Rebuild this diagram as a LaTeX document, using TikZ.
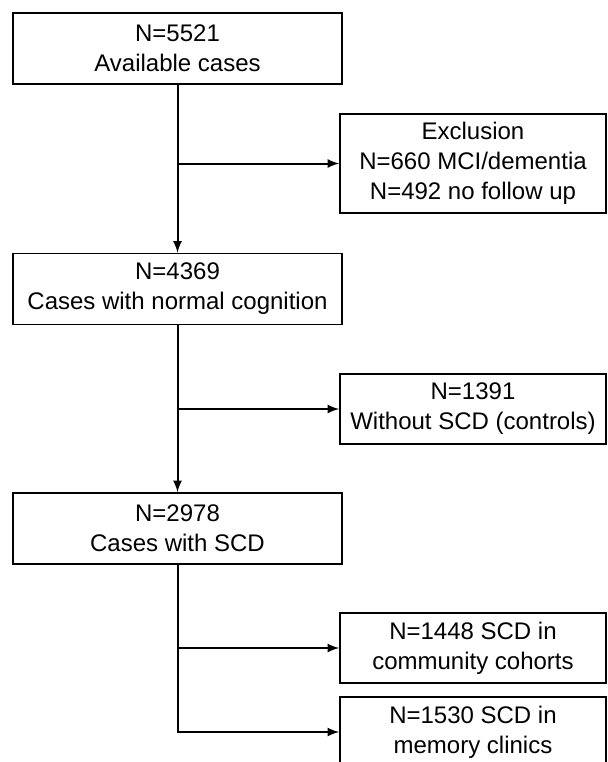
\documentclass[tikz,border=0pt]{standalone}
\usepackage{fontspec}
\setmainfont{Liberation Sans}
\tikzset{>=latex}
\tikzset{box/.style={draw, line width=0.8pt, align=center, inner sep=0pt, font=\fontsize{12}{15}\selectfont}}
\tikzset{left box/.style={box, minimum width=164.5pt, minimum height=35.5pt}}
\tikzset{right box/.style={box, minimum width=133pt, minimum height=35pt}}

\begin{document}
\begin{tikzpicture}[x=0.5pt, y=-0.5pt]
    \useasboundingbox(0, 0) rectangle (607, 762);
    \clip(0, 0) rectangle (607, 762);
    % main column
    \node[left box](avail)at(177.5, 48.5){N=5521\\Available cases};
    \node[left box](normal)at(177.5, 289){N=4369\\Cases with normal cognition};
    \node[left box](scd)at(177.5, 528.5){N=2978\\Cases with SCD};
    % side boxes
    \node[right box, minimum height=49.5pt](excl)at(473, 163.5){Exclusion\\N=660 MCI/dementia\\N=492 no follow up};
    \node[right box](ctrl)at(473, 409){N=1391\\Without SCD (controls)};
    \node[right box](comm)at(473, 648){N=1448 SCD in\\community cohorts};
    \node[right box](mem)at(473, 732){N=1530 SCD in\\memory clinics};
    % arrows
    \draw[line width=1pt, ->](avail)--(normal);
    \draw[line width=1pt, ->](avail.south |- excl.west)--(excl.west);
    \draw[line width=1pt, ->](normal)--(scd);
    \draw[line width=1pt, ->](normal.south |- ctrl.west)--(ctrl.west);
    \draw[line width=1pt, ->](scd.south)|-(mem.west);
    \draw[line width=1pt, ->](scd.south |- comm.west)--(comm.west);
\end{tikzpicture}
\end{document}
